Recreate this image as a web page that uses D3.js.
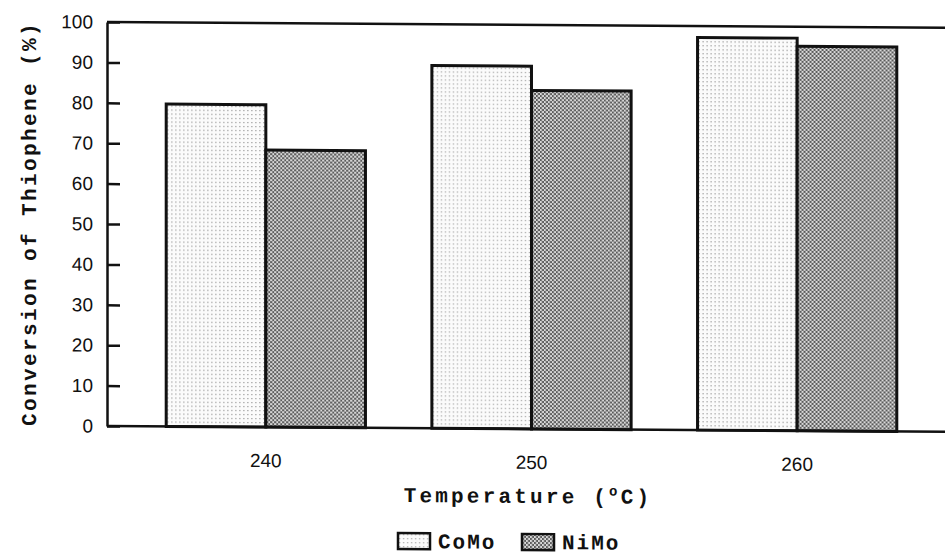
<!DOCTYPE html>
<html>
<head>
<meta charset="utf-8">
<script src="https://cdn.jsdelivr.net/npm/d3@7"></script>
<style>
  body { margin: 0; background: #fff; }
  svg { display: block; }
</style>
</head>
<body>
<div id="chart"></div>
<script>
// data
const temps = ["240", "250", "260"];
const series = ["CoMo", "NiMo"];
const como = [79.8, 89.8, 97.2];
const nimo = [68.6, 83.8, 95.2];
const yTicks = [0, 10, 20, 30, 40, 50, 60, 70, 80, 90, 100];

const width = 945,
  height = 555;
const plotLeft = 107,
  plotTop = 22,
  plotBottom = 426,
  plotRight = 945;

const svg = d3
  .select("#chart")
  .append("svg")
  .attr("width", width)
  .attr("height", height);

// fill patterns: light dot screen and denser checker screen
const defs = svg.append("defs");
const pLight = defs
  .append("pattern")
  .attr("id", "como")
  .attr("patternUnits", "userSpaceOnUse")
  .attr("width", 4)
  .attr("height", 4);
pLight.append("rect").attr("width", 4).attr("height", 4).attr("fill", "#fbfbfb");
pLight.append("rect").attr("x", 1).attr("y", 1).attr("width", 1.2).attr("height", 1.2).attr("fill", "#9a9a9a");

const pDark = defs
  .append("pattern")
  .attr("id", "nimo")
  .attr("patternUnits", "userSpaceOnUse")
  .attr("width", 4)
  .attr("height", 4);
pDark.append("rect").attr("width", 4).attr("height", 4).attr("fill", "#dadada");
pDark.append("rect").attr("x", 0).attr("y", 0).attr("width", 2).attr("height", 2).attr("fill", "#5a5a5a");
pDark.append("rect").attr("x", 2).attr("y", 2).attr("width", 2).attr("height", 2).attr("fill", "#5a5a5a");

const fills = { CoMo: "url(#como)", NiMo: "url(#nimo)" };

// the scan is slightly skewed, rising to the left
const g = svg
  .append("g")
  .attr("transform", `translate(${plotLeft},${plotTop}) skewY(0.4) translate(${-plotLeft},${-plotTop})`);

const x0 = d3
  .scaleBand()
  .domain(temps)
  .range([133, 930])
  .paddingInner(0.25)
  .paddingOuter(0.125);
const x1 = d3.scaleBand().domain(series).range([0, x0.bandwidth()]).padding(0);
const y = d3.scaleLinear().domain([0, 100]).range([plotBottom, plotTop]);

const rows = temps.map((t, i) => ({ temp: t, CoMo: como[i], NiMo: nimo[i] }));

// bars
g.selectAll(".grp")
  .data(rows)
  .join("g")
  .attr("class", "grp")
  .attr("transform", (d) => `translate(${x0(d.temp)},0)`)
  .selectAll("rect")
  .data((d) => series.map((s) => ({ key: s, value: d[s] })))
  .join("rect")
  .attr("x", (d) => x1(d.key))
  .attr("y", (d) => y(d.value))
  .attr("width", x1.bandwidth())
  .attr("height", (d) => y(0) - y(d.value))
  .attr("fill", (d) => fills[d.key])
  .attr("stroke", "#111")
  .attr("stroke-width", 3);

// frame lines (top and bottom, open on the right)
g.append("line")
  .attr("x1", plotLeft).attr("x2", plotRight + 20)
  .attr("y1", y(100)).attr("y2", y(100))
  .attr("stroke", "#111").attr("stroke-width", 2.5);
g.append("line")
  .attr("x1", plotLeft).attr("x2", plotRight + 20)
  .attr("y1", y(0)).attr("y2", y(0))
  .attr("stroke", "#111").attr("stroke-width", 2.5);

// y axis, ticks pointing inward
const yAxis = g
  .append("g")
  .attr("transform", `translate(${plotLeft},0)`)
  .call(
    d3.axisLeft(y)
      .tickValues(yTicks)
      .tickSizeInner(-13)
      .tickSizeOuter(0)
      .tickPadding(14)
  );
yAxis.select(".domain").attr("stroke", "#111").attr("stroke-width", 2.5);
yAxis.selectAll(".tick line").attr("stroke", "#111").attr("stroke-width", 2.5);
yAxis
  .selectAll(".tick text")
  .attr("font-family", "'Liberation Sans', Arial, sans-serif")
  .attr("font-size", 19)
  .attr("fill", "#111");

// x tick labels
g.selectAll(".xlab")
  .data(temps)
  .join("text")
  .attr("class", "xlab")
  .attr("x", (d) => x0(d) + x0.bandwidth() / 2)
  .attr("y", 466)
  .attr("text-anchor", "middle")
  .attr("font-family", "'Liberation Sans', Arial, sans-serif")
  .attr("font-size", 19)
  .attr("fill", "#111")
  .text((d) => d);

const mono = "'Liberation Mono', 'Courier New', monospace";

// x axis title
const xt = g
  .append("text")
  .attr("x", 528)
  .attr("y", 500)
  .attr("text-anchor", "middle")
  .attr("font-family", mono)
  .attr("font-weight", "bold")
  .attr("font-size", 21)
  .attr("letter-spacing", 3.2)
  .attr("fill", "#111");
xt.append("tspan").text("Temperature (");
xt.append("tspan").attr("dy", -8).attr("font-size", 14).text("o");
xt.append("tspan").attr("dy", 8).text("C)");

// y axis title
g.append("text")
  .attr("transform", `translate(36,${(plotTop + plotBottom) / 2}) rotate(-90)`)
  .attr("text-anchor", "middle")
  .attr("font-family", mono)
  .attr("font-weight", "bold")
  .attr("font-size", 21)
  .attr("letter-spacing", 2.4)
  .attr("fill", "#111")
  .text("Conversion of Thiophene (%)");

// legend
const legendX = [398, 522];
const lg = g
  .selectAll(".leg")
  .data(series)
  .join("g")
  .attr("class", "leg")
  .attr("transform", (d, i) => `translate(${legendX[i]},531)`);
lg.append("rect")
  .attr("width", 32)
  .attr("height", 16)
  .attr("fill", (d) => fills[d])
  .attr("stroke", "#111")
  .attr("stroke-width", 2.5);
lg.append("text")
  .attr("x", 40)
  .attr("y", 15)
  .attr("font-family", mono)
  .attr("font-weight", "bold")
  .attr("font-size", 21)
  .attr("letter-spacing", 2)
  .attr("fill", "#111")
  .text((d) => d);
</script>
</body>
</html>
